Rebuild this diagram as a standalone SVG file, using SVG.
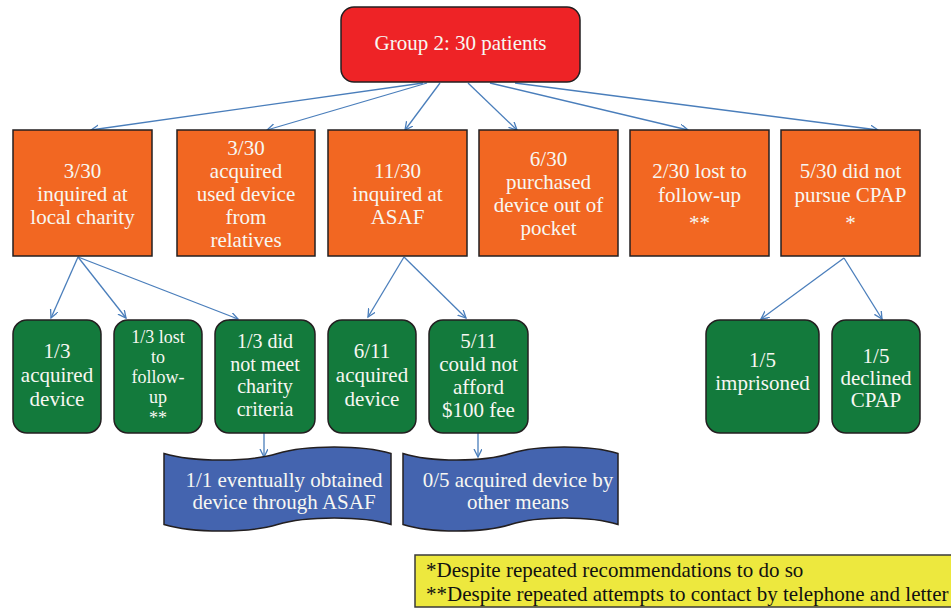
<svg xmlns="http://www.w3.org/2000/svg" width="951" height="612" viewBox="0 0 951 612">
<defs>
<marker id="arr" markerWidth="10" markerHeight="10" refX="8" refY="4" orient="auto" markerUnits="userSpaceOnUse">
<path d="M0,0 L8,4 L0,8" fill="none" stroke="#4A7EBB" stroke-width="1.3"/>
</marker>
<style>
.red{fill:#EE2326;stroke:#231F20;stroke-width:1.5}
.org{fill:#F26722;stroke:#231F20;stroke-width:1.5}
.grn{fill:#137A3C;stroke:#231F20;stroke-width:1.5}
.blu{fill:#4464AF;stroke:#231F20;stroke-width:1.5}
.leg{fill:#EDE83E;stroke:#3A3A3A;stroke-width:1.5}
text{font-family:"Liberation Serif","Times New Roman",serif;font-size:21px;fill:#F7F7F2;text-anchor:middle}
.sm{font-size:18px}
.md{font-size:20px}
.lt{fill:#111;text-anchor:start}
.con line{stroke:#4A7EBB;stroke-width:1.3;marker-end:url(#arr)}
</style>
</defs>
<rect width="951" height="612" fill="#fff"/>

<g class="con" id="connectors">
<line x1="423" y1="83" x2="91" y2="130"/>
<line x1="427" y1="83" x2="267" y2="130"/>
<line x1="440" y1="83" x2="405" y2="130"/>
<line x1="468" y1="83" x2="517" y2="130"/>
<line x1="490" y1="83" x2="688" y2="130"/>
<line x1="515" y1="83" x2="878" y2="130"/>
<line x1="78" y1="257" x2="51" y2="318"/>
<line x1="78" y1="257" x2="126" y2="318"/>
<line x1="78" y1="257" x2="238" y2="319"/>
<line x1="404" y1="257" x2="368" y2="317"/>
<line x1="404" y1="257" x2="466" y2="318"/>
<line x1="844" y1="258" x2="761" y2="319"/>
<line x1="844" y1="258" x2="882" y2="319"/>
<line x1="264" y1="433" x2="264" y2="457"/>
<line x1="478" y1="433" x2="478" y2="457"/>
</g>

<g id="root"><rect class="red" x="341" y="7" width="239" height="75" rx="13"/><text x="460.5" y="50">Group 2: 30 patients</text></g>

<g id="o1"><rect class="org" x="13" y="130" width="139" height="126"/><text x="82.5" y="178">3/30</text><text x="82.5" y="201">inquired at</text><text x="82.5" y="224">local charity</text></g>
<g id="o2"><rect class="org" x="177" y="130" width="138" height="126"/><text x="246" y="155">3/30</text><text x="246" y="178">acquired</text><text x="246" y="201">used device</text><text x="246" y="224">from</text><text x="246" y="247">relatives</text></g>
<g id="o3"><rect class="org" x="328" y="130" width="139" height="126"/><text x="397.5" y="178">11/30</text><text x="397.5" y="201">inquired at</text><text x="397.5" y="224">ASAF</text></g>
<g id="o4"><rect class="org" x="479" y="130" width="139" height="126"/><text x="548.5" y="166">6/30</text><text x="548.5" y="189">purchased</text><text x="548.5" y="212">device out of</text><text x="548.5" y="235">pocket</text></g>
<g id="o5"><rect class="org" x="630" y="130" width="139" height="126"/><text x="699.5" y="178">2/30 lost to</text><text x="699.5" y="202">follow-up</text><text x="699.5" y="230">**</text></g>
<g id="o6"><rect class="org" x="781" y="130" width="139" height="126"/><text x="850.5" y="178">5/30 did not</text><text x="850.5" y="202">pursue CPAP</text><text x="850.5" y="230">*</text></g>

<g id="g1"><rect class="grn" x="13" y="320" width="88" height="113" rx="14"/><text x="57" y="358">1/3</text><text x="57" y="382">acquired</text><text x="57" y="406">device</text></g>
<g id="g2"><rect class="grn" x="114" y="320" width="88" height="113" rx="14"/><text class="sm" x="158" y="343">1/3 lost</text><text class="sm" x="158" y="363">to</text><text class="sm" x="158" y="383">follow-</text><text class="sm" x="158" y="403">up</text><text class="sm" x="158" y="424">**</text></g>
<g id="g3"><rect class="grn" x="215" y="320" width="100" height="113" rx="14"/><text class="md" x="265" y="348">1/3 did</text><text class="md" x="265" y="370.5">not meet</text><text class="md" x="265" y="393">charity</text><text class="md" x="265" y="415.5">criteria</text></g>
<g id="g4"><rect class="grn" x="328" y="320" width="88" height="113" rx="14"/><text x="372" y="358">6/11</text><text x="372" y="382">acquired</text><text x="372" y="406">device</text></g>
<g id="g5"><rect class="grn" x="429" y="320" width="99" height="113" rx="14"/><text x="478.5" y="348">5/11</text><text x="478.5" y="371">could not</text><text x="478.5" y="394">afford</text><text x="478.5" y="417">$100 fee</text></g>
<g id="g6"><rect class="grn" x="706" y="320" width="113" height="113" rx="14"/><text x="762.5" y="367">1/5</text><text x="762.5" y="390">imprisoned</text></g>
<g id="g7"><rect class="grn" x="832" y="320" width="88" height="113" rx="14"/><text x="876" y="363">1/5</text><text x="876" y="385">declined</text><text x="876" y="407">CPAP</text></g>

<g id="b1"><path class="blu" d="M164,453.5 C192.4,462.2 249.1,462.2 277.5,453.5 C305.9,444.8 362.6,444.8 391,453.5 L391,524.5 C362.6,515.8 305.9,515.8 277.5,524.5 C249.1,533.2 192.4,533.2 164,524.5 Z"/><text x="284" y="487">1/1 eventually obtained</text><text x="284" y="509">device through ASAF</text></g>
<g id="b2"><path class="blu" d="M403,453.5 C429.9,462.2 483.6,462.2 510.5,453.5 C537.4,444.8 591.1,444.8 618,453.5 L618,524.5 C591.1,515.8 537.4,515.8 510.5,524.5 C483.6,533.2 429.9,533.2 403,524.5 Z"/><text x="518" y="487">0/5 acquired device by</text><text x="518" y="509">other means</text></g>

<g id="legend"><rect class="leg" x="415" y="555" width="540" height="52"/><text class="lt" x="426" y="577">*Despite repeated recommendations to do so</text><text class="lt" x="426" y="601">**Despite repeated attempts to contact by telephone and letter</text></g>
</svg>
